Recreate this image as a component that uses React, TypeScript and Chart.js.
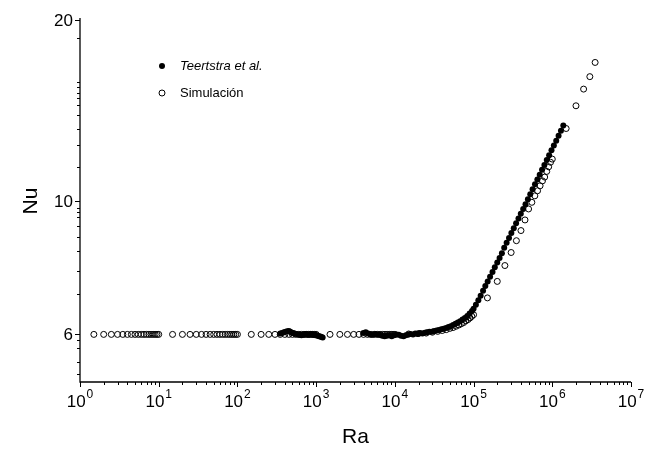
import React, { useEffect, useRef } from "react";
import { Chart, registerables } from "chart.js";
Chart.register(...registerables);

// ---- data ----
const simRa = [
  1.5, 2, 2.5, 3, 3.5, 4, 4.5, 5, 5.5, 6, 6.5, 7, 7.5, 8, 8.5, 9, 9.5, 10,
  15, 20, 25, 30, 35, 40, 45, 50, 55, 60, 65, 70, 75, 80, 85, 90, 95, 100,
  150, 200, 250, 300, 350, 400, 450, 500, 550, 600, 650, 700, 750, 800, 850, 900, 950, 1000,
  1500, 2000, 2500, 3000, 3500, 4000, 4500, 5000, 5500, 6000, 6500, 7000, 7500, 8000, 8500, 9000, 9500, 10000,
  15000, 20000, 25000, 30000, 35000, 40000, 45000, 50000, 55000, 60000, 65000, 70000, 75000, 80000, 85000, 90000, 95000, 100000,
  150000, 200000, 250000, 300000, 350000, 400000, 450000, 500000, 550000, 600000, 650000, 700000, 750000, 800000, 850000, 900000, 950000, 1000000,
  1500000, 2000000, 2500000, 3000000, 3500000,
];
const simNu = [
  6.0, 6.0, 6.0, 6.0, 6.0, 6.0, 6.0, 6.0, 6.0, 6.0, 6.0, 6.0, 6.0, 6.0, 6.0, 6.0, 6.0, 6.0,
  6.0, 6.0, 6.0, 6.0, 6.0, 6.0, 6.0, 6.0, 6.0, 6.0, 6.0, 6.0, 6.0, 6.0, 6.0, 6.0, 6.0, 6.0,
  6.0, 6.0, 6.0, 6.0, 6.0, 6.0, 6.0, 6.0, 6.0, 6.0, 6.0, 6.0, 6.0, 6.0, 6.0, 6.0, 6.0, 6.0,
  6.0, 6.0, 6.0, 6.0, 6.0, 6.0, 6.0, 6.0, 6.0, 6.0, 6.0, 6.0, 6.0, 6.0, 6.0, 6.0, 6.0, 6.0,
  6.01, 6.02, 6.03, 6.05, 6.07, 6.09, 6.11, 6.14, 6.16, 6.19, 6.22, 6.25, 6.28, 6.32, 6.35, 6.39, 6.43, 6.47,
  6.9, 7.35, 7.81, 8.21, 8.59, 8.93, 9.3, 9.7, 9.95, 10.2, 10.4, 10.6, 10.8, 10.96, 11.2, 11.4, 11.6, 11.74,
  13.2, 14.4, 15.35, 16.1, 17.0,
];

const expRa = [
  350, 370, 390, 410, 430, 450, 470, 490, 510, 530, 560, 590, 620, 650, 680, 710, 740, 770, 800, 830,
  860, 890, 920, 950, 980, 1010, 1050, 1090, 1130, 1170, 1210,
  3980, 4270, 4570, 4900, 5250, 5620, 6030, 6460, 6920, 7410, 7940, 8510, 9120, 9770, 10500, 11200,
  12000, 12900, 13800, 14800, 15800, 17000, 18200, 19500, 20900, 22400, 24000, 25700, 27500, 29500,
  31600, 33900, 36300, 38900, 41700, 44700, 47900, 51300, 55000, 58900, 63100, 67600, 72400, 77600,
  83200, 89100, 95500,
  100000, 107000, 115000, 123000, 132000, 141000, 151000, 162000, 174000, 186000,
  200000, 214000, 229000, 245000, 263000, 282000, 302000, 324000, 347000, 372000,
  398000, 427000, 457000, 490000, 525000, 562000, 603000, 646000, 692000, 741000,
  794000, 851000, 912000, 977000, 1047000, 1122000, 1202000, 1288000, 1380000,
];
const expNu = [
  6.02, 6.03, 6.05, 6.06, 6.07, 6.08, 6.06, 6.04, 6.03, 6.02, 6.01, 6.0, 5.99, 5.98, 5.99, 6.0, 6.01, 6.0, 5.99, 6.0,
  6.01, 6.0, 5.99, 5.99, 5.98, 5.98, 5.97, 5.96, 5.95, 5.94, 5.93,
  6.03, 6.05, 6.02, 6.0, 5.99, 6.01, 6.0, 5.99, 5.97, 5.96, 5.97, 5.98, 5.96, 5.98, 6.0, 5.99,
  5.97, 5.96, 5.98, 6.0, 6.01, 6.0, 6.02, 6.01, 6.03, 6.02, 6.04, 6.05, 6.06, 6.06,
  6.08, 6.09, 6.1, 6.12, 6.13, 6.15, 6.17, 6.19, 6.22, 6.25, 6.28, 6.31, 6.35, 6.39,
  6.44, 6.5, 6.56,
  6.62, 6.72, 6.84, 6.96, 7.09, 7.22, 7.35, 7.48, 7.62, 7.76,
  7.9, 8.04, 8.19, 8.36, 8.52, 8.68, 8.85, 9.01, 9.18, 9.35,
  9.52, 9.7, 9.88, 10.07, 10.26, 10.46, 10.66, 10.86, 11.06, 11.27,
  11.48, 11.7, 11.92, 12.14, 12.37, 12.6, 12.84, 13.09, 13.35,
];

const seriesNames = ["Teertstra et al.", "Simulación"];
const xTitle = "Ra";
const yTitle = "Nu";
const xMin = 1;
const xMax = 1e7;
const yMin = 5;
const yMax = 20;
const xDecadeExponents = [0, 1, 2, 3, 4, 5, 6, 7];
const xMinorMultipliers = [2, 3, 4, 5, 6, 7, 8, 9];
const yMajorTicks = [6, 10, 20];
const yMinorTicks = [18.7, 15.8, 15.45, 15.15, 14.85, 14.45, 13.9, 13.2, 12.4, 11.4,
  9.75, 9.6, 9.4, 9.1, 8.7, 8.25, 7.65, 7.0, 5.87, 5.7, 5.4, 5.15];

const FONT = '"Liberation Sans", Arial, Helvetica, sans-serif';

const decorPlugin = {
  id: "decor",
  afterDraw(chart: any) {
    const { ctx, chartArea, scales } = chart;
    const { left, right, top, bottom } = chartArea;
    const xs = scales.x;
    const ys = scales.y;
    ctx.save();
    ctx.strokeStyle = "#000";
    ctx.fillStyle = "#000";
    ctx.lineWidth = 1.3;
    // axis lines
    ctx.beginPath();
    ctx.moveTo(left, top - 2);
    ctx.lineTo(left, bottom);
    ctx.lineTo(right, bottom);
    ctx.stroke();
    ctx.lineWidth = 1;
    // y ticks
    ctx.beginPath();
    for (const v of yMajorTicks) {
      const py = Math.round(ys.getPixelForValue(v)) + 0.5;
      ctx.moveTo(left, py);
      ctx.lineTo(left - 5, py);
    }
    for (const v of yMinorTicks) {
      const py = Math.round(ys.getPixelForValue(v)) + 0.5;
      ctx.moveTo(left, py);
      ctx.lineTo(left - 3, py);
    }
    // x ticks
    for (const e of xDecadeExponents) {
      const px = Math.round(xs.getPixelForValue(Math.pow(10, e))) + 0.5;
      ctx.moveTo(px, bottom);
      ctx.lineTo(px, bottom + 5);
      if (e < xDecadeExponents[xDecadeExponents.length - 1]) {
        for (const m of xMinorMultipliers) {
          const mx = Math.round(xs.getPixelForValue(m * Math.pow(10, e))) + 0.5;
          ctx.moveTo(mx, bottom);
          ctx.lineTo(mx, bottom + 3);
        }
      }
    }
    ctx.stroke();
    // y labels
    ctx.font = `17px ${FONT}`;
    ctx.textAlign = "right";
    ctx.textBaseline = "middle";
    for (const v of yMajorTicks) {
      ctx.fillText(String(v), left - 7, ys.getPixelForValue(v) + 1);
    }
    // x labels with superscript
    ctx.textBaseline = "alphabetic";
    ctx.textAlign = "left";
    for (const e of xDecadeExponents) {
      const px = xs.getPixelForValue(Math.pow(10, e));
      ctx.font = `17px ${FONT}`;
      const wb = ctx.measureText("10").width;
      ctx.font = `12px ${FONT}`;
      const we = ctx.measureText(String(e)).width;
      const x0 = px - (wb + we + 1) / 2;
      ctx.font = `17px ${FONT}`;
      ctx.fillText("10", x0, bottom + 25);
      ctx.font = `12px ${FONT}`;
      ctx.fillText(String(e), x0 + wb + 1, bottom + 16);
    }
    // titles
    ctx.font = `21px ${FONT}`;
    ctx.textAlign = "center";
    ctx.textBaseline = "middle";
    ctx.fillText(xTitle, (left + right) / 2, 437);
    ctx.save();
    ctx.translate(31, ys.getPixelForValue(10));
    ctx.rotate(-Math.PI / 2);
    ctx.fillText(yTitle, 0, 0);
    ctx.restore();
    // legend
    const lx = 162;
    const ly = [66, 93];
    ctx.beginPath();
    ctx.arc(lx, ly[0], 3, 0, Math.PI * 2);
    ctx.fill();
    ctx.beginPath();
    ctx.arc(lx, ly[1], 3, 0, Math.PI * 2);
    ctx.stroke();
    ctx.textAlign = "left";
    ctx.font = `italic 13px ${FONT}`;
    ctx.fillText(seriesNames[0], 180, ly[0]);
    ctx.font = `13px ${FONT}`;
    ctx.fillText(seriesNames[1], 180, ly[1]);
    ctx.restore();
  },
};

export default function App() {
  const ref = useRef<HTMLCanvasElement | null>(null);
  useEffect(() => {
    if (!ref.current) return;
    const chart = new Chart(ref.current, {
      type: "scatter",
      data: {
        datasets: [
          {
            label: seriesNames[0],
            data: expRa.map((x, i) => ({ x, y: expNu[i] })),
            pointStyle: "circle",
            pointRadius: 3,
            pointBackgroundColor: "#000",
            pointBorderColor: "#000",
            pointBorderWidth: 0,
          },
          {
            label: seriesNames[1],
            data: simRa.map((x, i) => ({ x, y: simNu[i] })),
            pointStyle: "circle",
            pointRadius: 3,
            pointBackgroundColor: "rgba(255,255,255,0)",
            pointBorderColor: "#000",
            pointBorderWidth: 1,
          },
        ],
      },
      options: {
        animation: false,
        responsive: true,
        maintainAspectRatio: false,
        layout: { padding: { left: 0, top: 20, right: 16, bottom: 0 } },
        plugins: { legend: { display: false }, tooltip: { enabled: false } },
        scales: {
          x: {
            type: "logarithmic",
            min: xMin,
            max: xMax,
            grid: { display: false, drawTicks: false },
            border: { display: false },
            ticks: { display: false },
            afterFit: (s: any) => { s.height = 73; },
          },
          y: {
            type: "logarithmic",
            min: yMin,
            max: yMax,
            grid: { display: false, drawTicks: false },
            border: { display: false },
            ticks: { display: false },
            afterFit: (s: any) => { s.width = 80; },
          },
        },
      },
      plugins: [decorPlugin],
    });
    return () => chart.destroy();
  }, []);
  return (
    <div style={{ position: "fixed", left: 0, top: 0, width: 647, height: 455, background: "#fff" }}>
      <canvas ref={ref} />
    </div>
  );
}
